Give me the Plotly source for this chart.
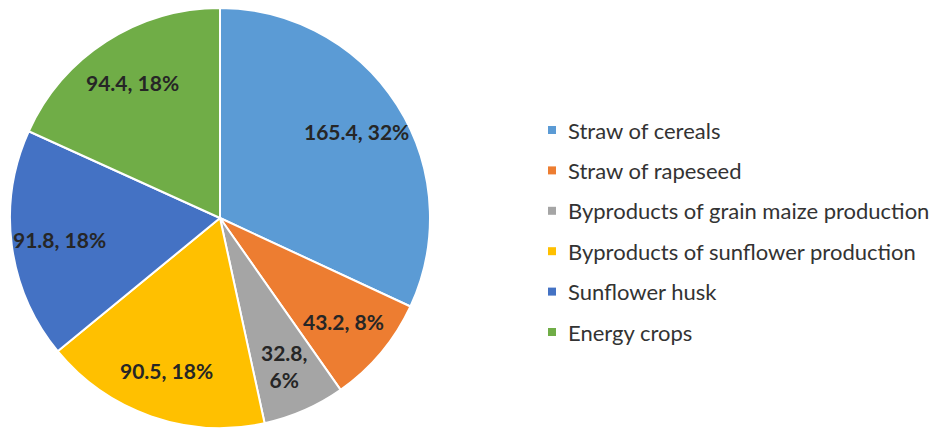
import math
import plotly.graph_objects as go

# Biomass potential by source
categories = [
    "Straw of cereals",
    "Straw of rapeseed",
    "Byproducts of grain maize production",
    "Byproducts of sunflower production",
    "Sunflower husk",
    "Energy crops",
]
values = [165.4, 43.2, 32.8, 90.5, 91.8, 94.4]
shares = ["32%", "8%", "6%", "18%", "18%", "18%"]
colors = ["#5B9BD5", "#ED7D31", "#A5A5A5", "#FFC000", "#4472C4", "#70AD47"]

W, H = 936, 430
FONT = "Lato, 'Noto Sans', sans-serif"

# Pie geometry (pixels)
CX, CY, R = 220, 218, 210
LABEL_RADIUS = 0.77

fig = go.Figure()
fig.add_trace(go.Pie(
    labels=categories,
    values=values,
    textinfo="none",
    sort=False,
    direction="clockwise",
    rotation=0,
    marker=dict(colors=colors, line=dict(color="white", width=2)),
    domain=dict(x=[(CX - R) / W, (CX + R) / W],
                y=[(H - CY - R) / H, (H - CY + R) / H]),
    showlegend=False,
    hoverinfo="label+value+percent",
))

# Data labels placed at the middle angle of each slice
total = sum(values)
cum = 0.0
for v, s in zip(values, shares):
    mid = (cum + v / 2) / total * 2 * math.pi
    cum += v
    px = CX + LABEL_RADIUS * R * math.sin(mid)
    py = CY - LABEL_RADIUS * R * math.cos(mid)
    sep = ",<br>" if v < 40 else ", "
    fig.add_annotation(
        x=px / W, y=1 - py / H, xref="paper", yref="paper",
        text=f"<b>{v}{sep}{s}</b>", showarrow=False,
        xanchor="center", yanchor="middle",
        font=dict(family=FONT, size=21, color="#262626"),
    )

# Legend drawn as square swatches with labels beside them
leg_x0 = 548
leg_y0 = 130
leg_step = 40.4
for i, (name, col) in enumerate(zip(categories, colors)):
    yc = leg_y0 + i * leg_step
    fig.add_shape(
        type="rect", xref="paper", yref="paper",
        x0=leg_x0 / W, x1=(leg_x0 + 8) / W,
        y0=1 - (yc + 4) / H, y1=1 - (yc - 4) / H,
        fillcolor=col, line=dict(width=0),
    )
    fig.add_annotation(
        x=(leg_x0 + 18) / W, y=1 - yc / H, xref="paper", yref="paper",
        text=name, showarrow=False, xanchor="left", yanchor="middle",
        font=dict(family=FONT, size=22, color="#333333"),
    )

fig.update_layout(
    width=W, height=H,
    margin=dict(l=0, r=0, t=0, b=0),
    paper_bgcolor="white",
    plot_bgcolor="white",
)

fig.write_html("out.html")
